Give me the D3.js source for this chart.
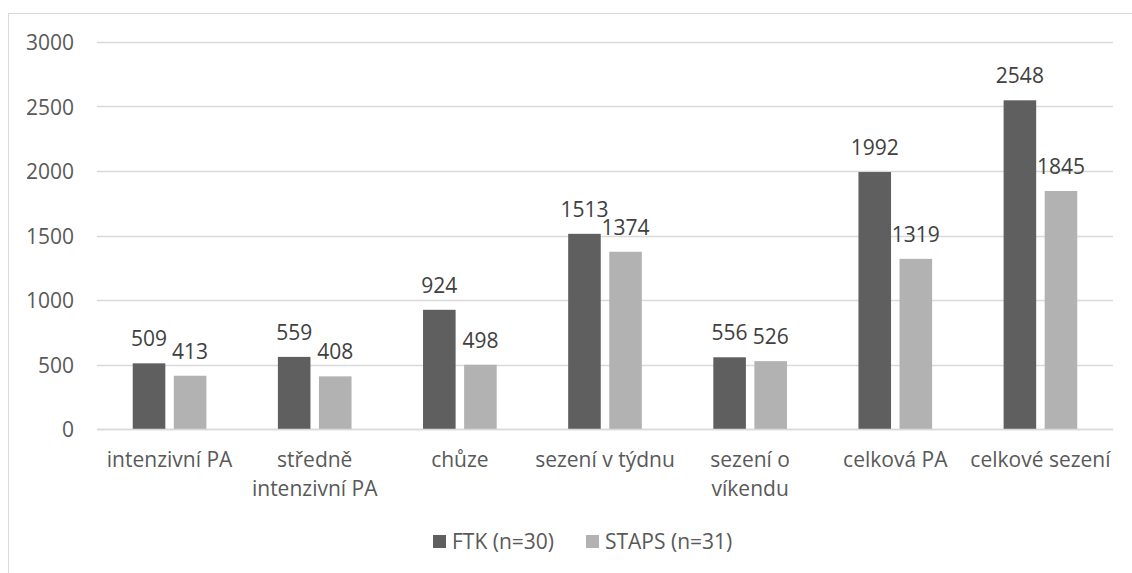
<!DOCTYPE html>
<html>
<head>
<meta charset="utf-8">
<script src="https://cdn.jsdelivr.net/npm/d3@7"></script>
<style>
  body { margin: 0; background: #fff; }
  svg { display: block; font-family: "Open Sans", sans-serif; }
</style>
</head>
<body>
<svg width="1132" height="573"></svg>
<script>
const categories = ["intenzivní PA", "středně intenzivní PA", "chůze", "sezení v týdnu", "sezení o víkendu", "celková PA", "celkové sezení"];
const ftk = [509, 559, 924, 1513, 556, 1992, 2548];
const staps = [413, 408, 498, 1374, 526, 1319, 1845];
const seriesNames = ["FTK (n=30)", "STAPS (n=31)"];
const yTicks = [0, 500, 1000, 1500, 2000, 2500, 3000];

const colors = ["#5f5f5f", "#b2b2b2"];
const fs = 21;
const svg = d3.select("svg");
const margin = {left: 97, right: 19, top: 42, bottom: 144};
const width = 1132, height = 573;

// chart frame (cut off at right and bottom like the source)
svg.append("rect")
  .attr("x", 8.5).attr("y", 13.5)
  .attr("width", 1200).attr("height", 700)
  .attr("fill", "none").attr("stroke", "#d9d9d9");

const x = d3.scaleBand().domain(categories)
  .range([margin.left, width - margin.right]);
const x1 = d3.scaleBand().domain([0, 1])
  .range([0, x.bandwidth()]).paddingInner(0.207).paddingOuter(0.87);
const y = d3.scaleLinear().domain([0, 3000])
  .range([height - margin.bottom, margin.top]);

// gridlines
svg.append("g").selectAll("line").data(yTicks).enter().append("line")
  .attr("x1", margin.left).attr("x2", width - margin.right)
  .attr("y1", d => Math.round(y(d)) + 0.5).attr("y2", d => Math.round(y(d)) + 0.5)
  .attr("stroke", "#d9d9d9").attr("stroke-width", 1.5);

// y axis labels
const yAxis = svg.append("g")
  .attr("transform", `translate(${margin.left - 23},1)`)
  .call(d3.axisLeft(y).tickValues(yTicks).tickFormat(d3.format("d")).tickSize(0).tickPadding(0));
yAxis.select(".domain").remove();
yAxis.selectAll("text")
  .attr("font-size", fs).attr("fill", "#595959")
  .attr("font-family", "Open Sans, sans-serif");

// bars
const data = categories.map((c, i) => ({cat: c, vals: [ftk[i], staps[i]]}));
const groups = svg.append("g").selectAll("g").data(data).enter().append("g")
  .attr("transform", d => `translate(${x(d.cat)},0)`);

groups.selectAll("rect").data(d => d.vals).enter().append("rect")
  .attr("x", (d, i) => x1(i))
  .attr("width", x1.bandwidth())
  .attr("y", d => y(d))
  .attr("height", d => y(0) - y(d))
  .attr("fill", (d, i) => colors[i]);

groups.selectAll("text.val").data(d => d.vals).enter().append("text")
  .attr("class", "val")
  .attr("x", (d, i) => x1(i) + x1.bandwidth() / 2)
  .attr("y", d => y(d) - 17)
  .attr("text-anchor", "middle")
  .attr("font-size", fs).attr("fill", "#404040")
  .text(d => d);

// x axis line
svg.append("line")
  .attr("x1", margin.left).attr("x2", width - margin.right)
  .attr("y1", y(0) + 0.5).attr("y2", y(0) + 0.5)
  .attr("stroke", "#d9d9d9").attr("stroke-width", 1.5);

// category labels with wrapping
const base = 38, lineH = 28.5;
const xAxis = svg.append("g")
  .attr("transform", `translate(0,${y(0)})`)
  .call(d3.axisBottom(x).tickSize(0).tickPadding(0));
xAxis.select(".domain").remove();
xAxis.selectAll("text")
  .attr("font-size", fs).attr("fill", "#595959")
  .attr("font-family", "Open Sans, sans-serif")
  .attr("y", base).attr("dy", 0)
  .each(function() {
    const t = d3.select(this);
    const words = t.text().split(" ");
    t.text(null);
    let line = [];
    let lineNo = 0;
    let tspan = t.append("tspan").attr("x", 0).attr("y", base);
    words.forEach(w => {
      line.push(w);
      tspan.text(line.join(" "));
      if (tspan.node().getComputedTextLength() > x.bandwidth() - 2 && line.length > 1) {
        line.pop();
        tspan.text(line.join(" "));
        line = [w];
        lineNo++;
        tspan = t.append("tspan").attr("x", 0).attr("y", base + lineNo * lineH).text(w);
      }
    });
  });

// legend
const legend = svg.append("g").attr("transform", "translate(433,535)");
const lx = [0, 153];
seriesNames.forEach((n, i) => {
  legend.append("rect").attr("x", lx[i]).attr("y", 0)
    .attr("width", 13).attr("height", 13).attr("fill", colors[i]);
  legend.append("text").attr("x", lx[i] + 19).attr("y", 14)
    .attr("font-size", fs).attr("fill", "#595959").text(n);
});
</script>
</body>
</html>
